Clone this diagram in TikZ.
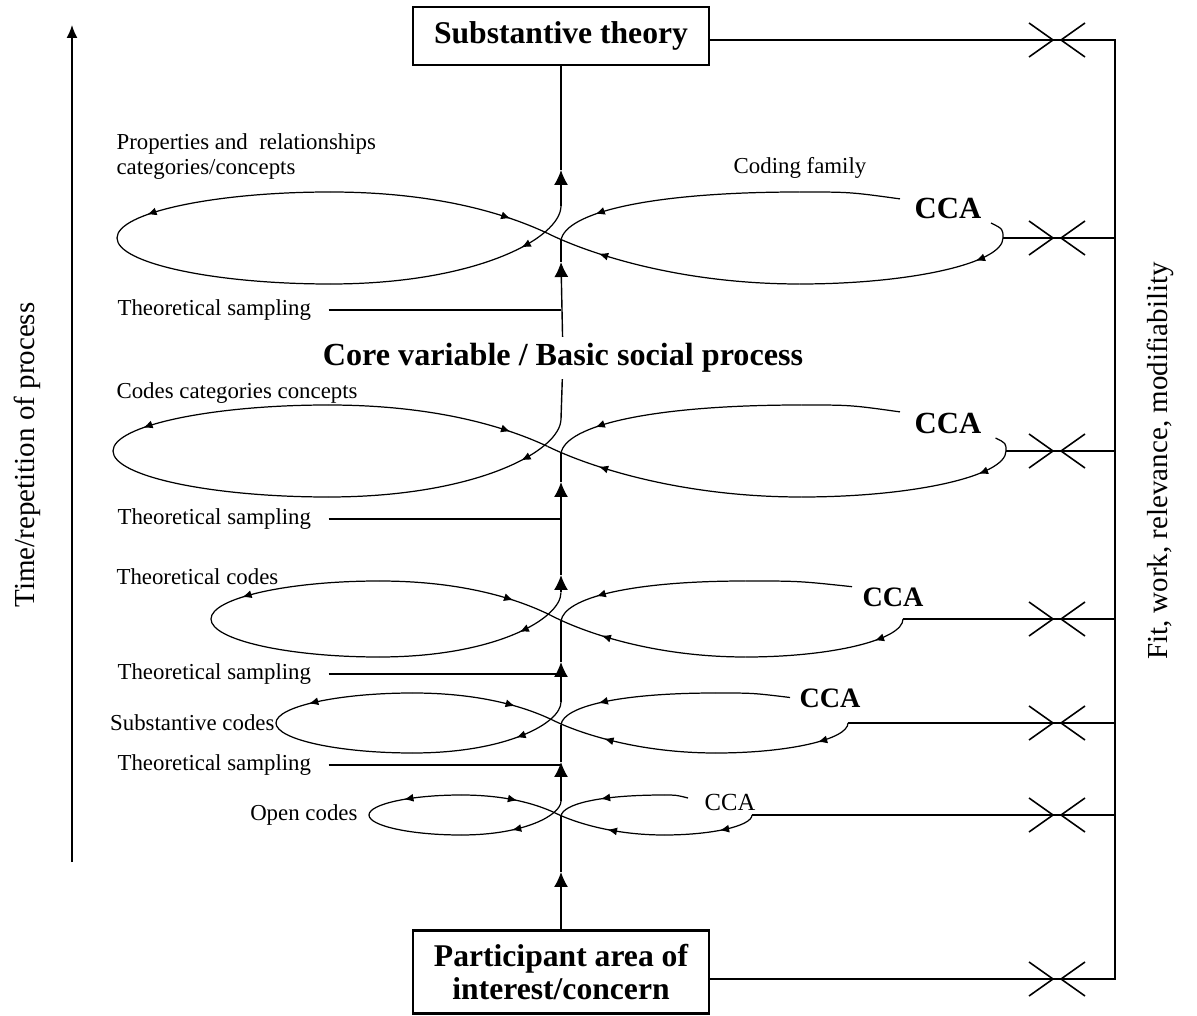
\documentclass[tikz,border=0pt]{standalone}
\usepackage{fontspec}
\setmainfont{Liberation Serif}
\usetikzlibrary{arrows.meta, decorations.markings, positioning}
\tikzset{> = { Latex[length = 3mm, width = 2.8mm] }}
\tikzset{
	tipfwd/.style = { postaction = {decorate}, decoration = { markings, mark = at position #1 with { \arrow{Latex[length = 1.9mm, width = 1.6mm]} } } },
	tipbwd/.style = { postaction = {decorate}, decoration = { markings, mark = at position #1 with { \arrowreversed{Latex[length = 1.9mm, width = 1.6mm]} } } },
	cutmark/.pic  = { \draw[line width = 0.9pt] (-28,-17) -- (-4,0) -- (-28,17);
	                  \draw[line width = 0.9pt] (28,-17) -- (4,0) -- (28,17); }
}

% figure-eight loop round the trunk: name, crossing y, left end x, right end x, half height, top end x, upturn
\newcommand{\crossloop}[7]{%
	\begin{scope}[shift = {(561,#2)}, line width = 0.7pt]
		\pgfmathsetmacro\loopL{561-#3}
		\pgfmathsetmacro\loopR{#4-561}
		\pgfmathsetmacro\loopH{#5}
		\pgfmathsetmacro\loopT{#6-561}
		\coordinate (#1u) at (0,{-0.7*\loopH});
		\coordinate (#1d) at (0,{0.05*\loopH});
		\coordinate (#1l) at ({-\loopL},0);
		\coordinate (#1r) at (\loopR,0);
		% left loop
		\draw[tipfwd = 1.2cm] (#1u) .. controls (0,0) and ({-0.19*\loopL},\loopH) .. ({-0.52*\loopL},\loopH);
		\draw ({-0.52*\loopL},\loopH) .. controls ({-0.78*\loopL},\loopH) and ({-\loopL},{0.55*\loopH}) .. (#1l);
		\draw[tipbwd = 0.8cm] (#1l) .. controls ({-\loopL},{-0.55*\loopH}) and ({-0.78*\loopL},{-\loopH}) .. ({-0.52*\loopL},{-\loopH});
		\draw[tipfwd = -0.8cm] ({-0.52*\loopL},{-\loopH}) .. controls ({-0.3*\loopL},{-\loopH}) and ({-0.14*\loopL},{-0.6*\loopH}) .. ({-0.03*\loopL},{-0.1*\loopH});
		% right loop
		\draw[tipbwd = 1.1cm] ({-0.03*\loopL},{-0.1*\loopH}) .. controls ({0.065*\loopR},{0.35*\loopH}) and ({0.27*\loopR},\loopH) .. ({0.54*\loopR},\loopH);
		\draw[tipbwd = -0.75cm] ({0.54*\loopR},\loopH) .. controls ({0.79*\loopR},\loopH) and (\loopR,{0.55*\loopH}) .. (#1r);
		\ifnum#7>0 \draw (#1r) .. controls (\loopR,{-0.6*#7}) .. ({\loopR-0.8*#7},{-#7}); \fi
		\draw[tipbwd = 0.9cm] (#1d) .. controls ({0.01*\loopR},{-0.55*\loopH}) and ({0.2*\loopR},{-\loopH}) .. ({0.54*\loopR},{-\loopH});
		\draw ({0.54*\loopR},{-\loopH}) .. controls ({0.54*\loopR+0.5*(\loopT-0.54*\loopR)},{-\loopH}) .. (\loopT,{-0.85*\loopH});
	\end{scope}}

\begin{document}
\begin{tikzpicture}[x = 0.02cm, y = -0.02cm, line width = 0.8pt,
		box/.style       = { draw, line width = 1.3pt, minimum width = 5.92cm, align = center, font = \fontsize{18}{19}\selectfont\bfseries },
		heading/.style   = { font = \fontsize{18.3}{19}\selectfont\bfseries },
		smalltext/.style = { font = \fontsize{13}{14.2}\selectfont },
		sampling/.style  = { smalltext, inner sep = 0pt, outer xsep = 10pt, anchor = west },
		side/.style      = { font = \fontsize{16.5}{18}\selectfont, rotate = 90 },
		cca/.style       = { font = \fontsize{17.5}{18}\selectfont\bfseries }]
	\useasboundingbox (0,0) rectangle (1197,1016);

	\node [box, minimum height = 1.16cm] (theory) at (561,36)  {Substantive theory};
	\node [box, minimum height = 1.66cm] (area)   at (561,972) {Participant area of\\interest/concern};
	\node [heading]                      (core)   at (563,358) {Core variable / Basic social process};

	\crossloop{l1}{238}{117}{1003}{46}{900}{15}
	\crossloop{l2}{451}{113}{1006}{46}{900}{13}
	\crossloop{l3}{619}{211}{903}{38}{852}{0}
	\crossloop{l4}{723}{276}{848}{30}{790}{0}
	\crossloop{l5}{815}{369}{752}{20}{688}{0}

	% labels of the loops
	\node [smalltext, anchor = west, align = left] (props)  at (110,157) {Properties and\ \ relationships\\categories/concepts};
	\node [smalltext]                              (family) at (800,168) {Coding family};
	\node [smalltext, anchor = west]               (codes)  at (110,393) {Codes categories concepts};
	\node [smalltext, anchor = west]               (theo)   at (110,577) {Theoretical codes};
	\node [smalltext, left = -0.1cm of l4l]        (subst)  {Substantive codes};
	\node [smalltext, left = 0.1cm of l5l]         (open)   {Open codes};

	\node [cca] (cca1) at (948,208) {CCA};
	\node [cca] (cca2) at (948,423) {CCA};
	\node [cca, font = \fontsize{16}{17}\selectfont\bfseries] (cca3) at (893,597) {CCA};
	\node [cca, font = \fontsize{16}{17}\selectfont\bfseries] (cca4) at (830,698) {CCA};
	\node [cca, font = \fontsize{14}{15}\selectfont]          (cca5) at (730,802) {CCA};

	\node [sampling] (ts1) at (100,310) {Theoretical sampling};
	\node [sampling] (ts2) at (100,519) {Theoretical sampling};
	\node [sampling] (ts3) at (100,674) {Theoretical sampling};
	\node [sampling] (ts4) at (100,765) {Theoretical sampling};

	\node [side] (timelab) at (27,455)   {Time/repetition of process};
	\node [side] (fitlab)  at (1160,461) {Fit, work, relevance, modifiability};

	% trunk
	\coordinate (trunk) at (561,0);
	\coordinate (a1) at (561,170);
	\coordinate (a2) at (561,262);
	\coordinate (a3) at (561,575);
	\coordinate (a4) at (561,482);
	\coordinate (a5) at (561,662);
	\coordinate (a6) at (561,762);
	\coordinate (a7) at (561,872);

	\draw[->] (l1u) -- (a1);
	\draw (a1) -- (theory);
	\draw[->] (core) -- (a2);
	\draw (a2) -- (l1d);
	\draw (core) -- (l2u);
	\draw[->] (l3u) -- (a3);
	\draw[->] (a3) -- (a4);
	\draw (a4) -- (l2d);
	\draw[->] (l4u) -- (a5);
	\draw (a5) -- (l3d);
	\draw[->] (l5u) -- (a6);
	\draw (a6) -- (l4d);
	\draw[->] (area) -- (a7);
	\draw (a7) -- (l5d);

	\draw (ts1.east) -- (ts1.east -| trunk);
	\draw (ts2.east) -- (ts2.east -| trunk);
	\draw (ts3.east) -- (ts3.east -| trunk);
	\draw (ts4.east) -- (ts4.east -| trunk);

	% time axis
	\coordinate (tbot) at (72,862);
	\coordinate (ttop) at (72,25);
	\draw[-{Latex[length = 2.6mm, width = 2.2mm]}] (tbot) -- (ttop);

	% frame on the right
	\coordinate (frame)  at (1115,0);
	\coordinate (xcol)   at (1057,0);
	\coordinate (topout) at ([yshift = -0.08cm]theory.east);
	\coordinate (botout) at ([yshift = -0.14cm]area.east);

	\draw (topout) -- (topout -| frame) -- (botout -| frame) -- (botout);
	\draw (l1r) -- (l1r -| frame);
	\draw (l2r) -- (l2r -| frame);
	\draw (l3r) -- (l3r -| frame);
	\draw (l4r) -- (l4r -| frame);
	\draw (l5r) -- (l5r -| frame);

	\pic at (topout -| xcol) {cutmark};
	\pic at (l1r -| xcol) {cutmark};
	\pic at (l2r -| xcol) {cutmark};
	\pic at (l3r -| xcol) {cutmark};
	\pic at (l4r -| xcol) {cutmark};
	\pic at (l5r -| xcol) {cutmark};
	\pic at (botout -| xcol) {cutmark};
\end{tikzpicture}
\end{document}
